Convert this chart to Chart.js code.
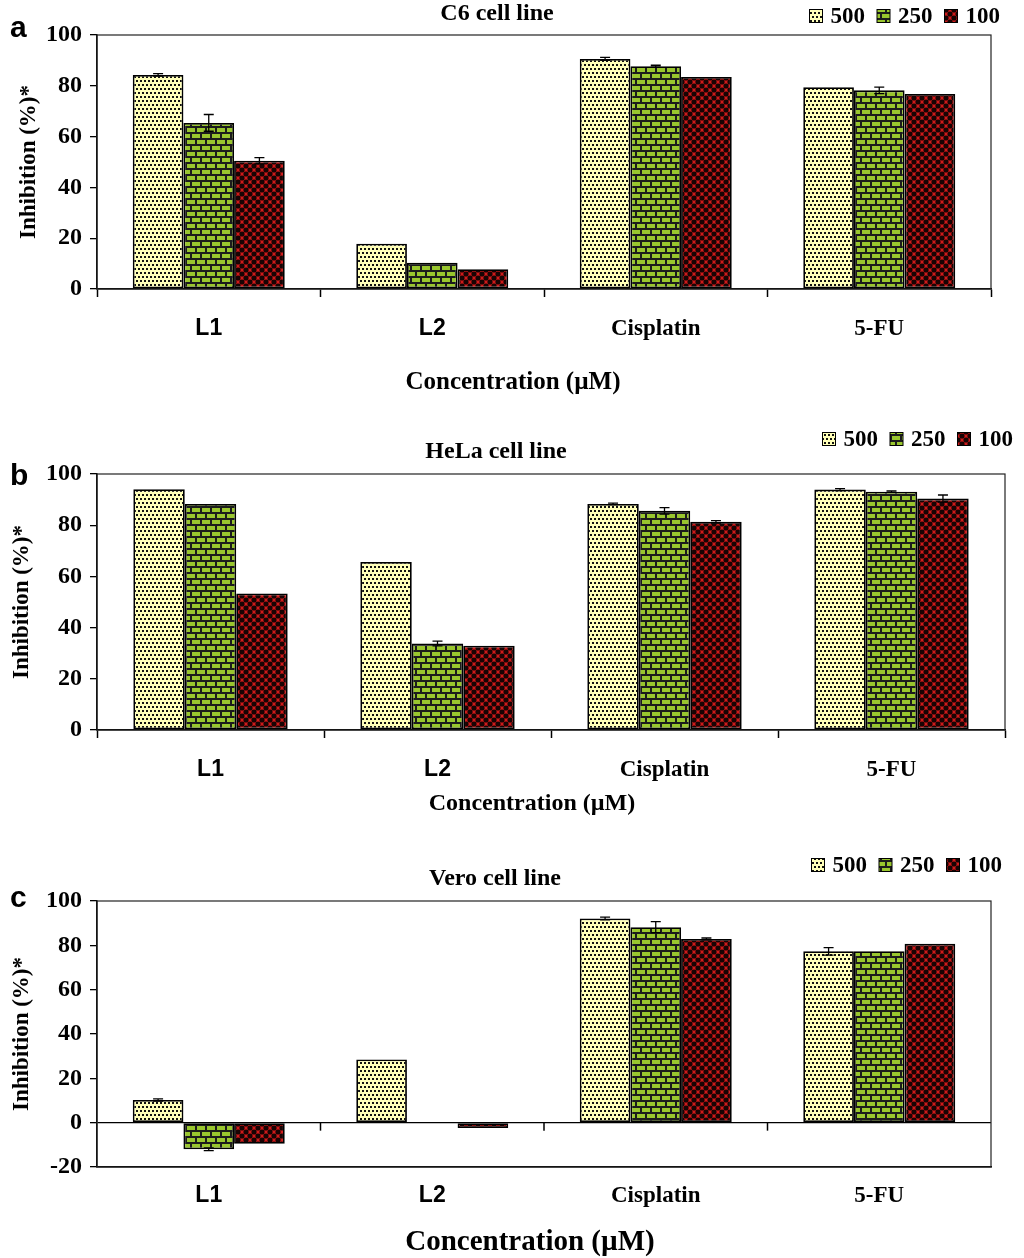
<!DOCTYPE html>
<html>
<head>
<meta charset="utf-8">
<title>Inhibition (%) by cell line</title>
<script src="https://cdn.jsdelivr.net/npm/chart.js@4.4.1/dist/chart.umd.min.js"></script>
<style>
  html, body { margin: 0; padding: 0; background: #ffffff; }
  .panel { position: absolute; left: 0; width: 1024px; }
  #panel-a { top: 0;     height: 410px; }
  #panel-b { top: 410px; height: 420px; }
  #panel-c { top: 830px; height: 428px; }
</style>
</head>
<body>
<div class="panel" id="panel-a"><canvas id="chartA"></canvas></div>
<div class="panel" id="panel-b"><canvas id="chartB"></canvas></div>
<div class="panel" id="panel-c"><canvas id="chartC"></canvas></div>

<script>
// ─────────────────────────────────────────
// DATA
// ─────────────────────────────────────────

const compounds = ["L1", "L2", "Cisplatin", "5-FU"];
const doses     = ["500", "250", "100"];

// C6 cell line
const c6_500 = [84.3, 17.8, 90.6, 79.4];
const c6_250 = [65.4, 10.3, 87.7, 78.2];
const c6_100 = [50.5,  7.8, 83.5, 76.8];
const c6_err500 = [0.5, 0, 0.6, 0];
const c6_err250 = [3.3, 0, 0.4, 1.3];
const c6_err100 = [1.2, 0, 0,   0];

// HeLa cell line
const hela_500 = [94.0, 65.6, 88.3, 93.9];
const hela_250 = [88.3, 33.8, 85.6, 93.1];
const hela_100 = [53.3, 32.9, 81.3, 90.4];
const hela_err500 = [0, 0,   0.3, 0.4];
const hela_err250 = [0, 0.9, 1.3, 0.3];
const hela_err100 = [0, 0,   0.5, 1.4];

// Vero cell line
const vero_500 = [10.2, 28.5, 92.1, 77.3];
const vero_250 = [-12.0, 0,   88.2, 77.3];
const vero_100 = [-9.5, -2.4, 82.9, 80.7];
const vero_err500 = [0.5, 0, 0.6, 1.7];
const vero_err250 = [0.6, 0, 2.5, 0];
const vero_err100 = [0,   0, 0.4, 0];

// ─────────────────────────────────────────
// FILL PATTERNS
// ─────────────────────────────────────────

const SERIF = "'Liberation Serif', 'Times New Roman', serif";
const SANS  = "'Liberation Sans', Arial, sans-serif";

function makePattern(kind) {
  const t = document.createElement("canvas");
  const g = t.getContext("2d");
  if (kind === "dots") {
    t.width = 8; t.height = 8;
    g.fillStyle = "#FFFFB8"; g.fillRect(0, 0, 8, 8);
    g.fillStyle = "#111111";
    [[0, 0], [4, 0], [2, 4], [6, 4]].forEach(p => g.fillRect(p[0], p[1], 2, 2));
  } else if (kind === "brick") {
    t.width = 20; t.height = 12;
    g.fillStyle = "#99C62E"; g.fillRect(0, 0, 20, 12);
    g.fillStyle = "#1c1c1c";
    g.fillRect(0, 0, 20, 2);
    g.fillRect(0, 6, 20, 2);
    g.fillRect(0, 2, 2, 4);
    g.fillRect(10, 2, 2, 4);
    g.fillRect(5, 8, 2, 4);
    g.fillRect(15, 8, 2, 4);
  } else {
    t.width = 8; t.height = 8;
    g.fillStyle = "#D01A1A"; g.fillRect(0, 0, 8, 8);
    g.fillStyle = "#180404";
    [[2, 2], [6, 6], [-2, 6], [6, -2], [10, 6], [6, 10], [-2, -2], [10, 10], [2, 10], [10, 2], [-2, 10], [10, -2]]
      .forEach(p => {
        g.beginPath(); g.arc(p[0], p[1], 2.6, 0, Math.PI * 2); g.fill();
      });
  }
  const tmp = document.createElement("canvas").getContext("2d");
  return tmp.createPattern(t, "repeat");
}

const fills = [makePattern("dots"), makePattern("brick"), makePattern("circles")];

// ─────────────────────────────────────────
// PANEL DECORATION PLUGIN
// (letter, title, legend, x title, box, error bars)
// ─────────────────────────────────────────

const panelDeco = {
  id: "panelDeco",
  afterDatasetsDraw(chart) {
    const ctx = chart.ctx;
    const ys  = chart.scales.y;
    ctx.save();
    ctx.strokeStyle = "#000";
    ctx.lineWidth = 1.3;
    chart.data.datasets.forEach((ds, di) => {
      const meta = chart.getDatasetMeta(di);
      meta.data.forEach((bar, i) => {
        const e = ds.errorBars[i];
        if (!e) return;
        const v  = ds.data[i];
        const y1 = ys.getPixelForValue(v + e);
        const y2 = ys.getPixelForValue(v - e);
        ctx.beginPath();
        ctx.moveTo(bar.x, y1); ctx.lineTo(bar.x, y2);
        ctx.moveTo(bar.x - 5, y1); ctx.lineTo(bar.x + 5, y1);
        ctx.moveTo(bar.x - 5, y2); ctx.lineTo(bar.x + 5, y2);
        ctx.stroke();
      });
    });
    ctx.restore();
  },
  afterDraw(chart, args, o) {
    const ctx  = chart.ctx;
    const area = chart.chartArea;
    ctx.save();

    // frame round the plot
    ctx.strokeStyle = "#222";
    ctx.lineWidth = 1.2;
    ctx.strokeRect(area.left, area.top, area.right - area.left, area.bottom - area.top);

    // category ticks hanging from the zero line (panel c)
    if (o.zeroTicks) {
      const xs = chart.scales.x;
      const y0 = chart.scales.y.getPixelForValue(0);
      const n  = chart.data.labels.length;
      ctx.strokeStyle = "#000";
      ctx.lineWidth = 1.5;
      for (let i = 1; i < n; i++) {
        const x = (xs.getPixelForTick(i - 1) + xs.getPixelForTick(i)) / 2;
        ctx.beginPath(); ctx.moveTo(x, y0); ctx.lineTo(x, y0 + 8); ctx.stroke();
      }
    }

    ctx.fillStyle = "#000";

    // panel letter
    ctx.font = "bold 30px " + SANS;
    ctx.textAlign = "left";
    ctx.textBaseline = "alphabetic";
    ctx.fillText(o.letter, 10, o.letterY);

    // panel title
    ctx.font = "bold 24px " + SERIF;
    ctx.textAlign = "center";
    ctx.textBaseline = "middle";
    ctx.fillText(o.title, o.titleX, o.titleY);

    // x axis title
    ctx.font = "bold " + o.xTitleSize + "px " + SERIF;
    ctx.fillText("Concentration (\u00B5M)", o.xTitleX, o.xTitleY);

    // legend
    ctx.font = "bold 23px " + SERIF;
    ctx.textAlign = "left";
    const box = 13, gap = 8, spacing = 12;
    const items = chart.data.datasets.map(ds => ({
      label: ds.label, fill: ds.backgroundColor, w: ctx.measureText(ds.label).width
    }));
    let total = 0;
    items.forEach((it, i) => { total += box + gap + it.w + (i < items.length - 1 ? spacing : 0); });
    let x = o.legendRight - total;
    items.forEach(it => {
      ctx.fillStyle = it.fill;
      ctx.fillRect(x, o.legendY - box / 2, box, box);
      ctx.strokeStyle = "#000";
      ctx.lineWidth = 1;
      ctx.strokeRect(x, o.legendY - box / 2, box, box);
      ctx.fillStyle = "#000";
      ctx.fillText(it.label, x + box + gap, o.legendY + 1);
      x += box + gap + it.w + spacing;
    });

    ctx.restore();
  }
};

// ─────────────────────────────────────────
// BUILD ONE PANEL
// ─────────────────────────────────────────

function makePanel(canvasId, series, errors, p) {
  const datasets = doses.map((d, k) => ({
    label: d,
    data: series[k],
    errorBars: errors[k],
    backgroundColor: fills[k],
    borderColor: "#000",
    borderWidth: 1.8,
    borderSkipped: false,
    categoryPercentage: 0.68,
    barPercentage: 1.0
  }));

  return new Chart(document.getElementById(canvasId), {
    type: "bar",
    data: { labels: compounds, datasets: datasets },
    plugins: [panelDeco],
    options: {
      responsive: true,
      maintainAspectRatio: false,
      animation: false,
      layout: { padding: { top: p.padTop, right: p.padRight, left: 0, bottom: 0 } },
      plugins: {
        legend: { display: false },
        tooltip: { enabled: false },
        panelDeco: p.deco
      },
      scales: {
        x: {
          afterFit: s => { s.height = p.xHeight; },
          border: { display: true, color: "#000", width: 1.5 },
          grid: {
            offset: true,
            drawOnChartArea: false,
            drawTicks: !p.deco.zeroTicks,
            tickLength: 8,
            tickColor: "#000",
            tickWidth: 1.5
          },
          ticks: {
            color: "#000",
            padding: p.xTickPad,
            font: ctx => ({
              family: ctx.index < 2 ? SANS : SERIF,
              size: 23,
              weight: "bold"
            })
          }
        },
        y: {
          min: p.yMin,
          max: 100,
          afterFit: s => { s.width = 97; },
          border: { display: true, color: "#000", width: 1.5 },
          grid: {
            drawOnChartArea: p.yMin < 0,
            color: ctx => (ctx.tick && ctx.tick.value === 0 ? "#000" : "rgba(0,0,0,0)"),
            lineWidth: 1.3,
            tickColor: "#000",
            tickLength: 7,
            tickWidth: 1.3
          },
          ticks: {
            stepSize: 20,
            color: "#000",
            padding: 8,
            font: { family: SERIF, size: 24, weight: "bold" }
          },
          title: {
            display: true,
            text: "Inhibition (%)*",
            color: "#000",
            padding: { top: p.yTitlePad, bottom: 0 },
            font: { family: SERIF, size: 23, weight: "bold" }
          }
        }
      }
    }
  });
}

// ─────────────────────────────────────────
// THE THREE PANELS
// ─────────────────────────────────────────

makePanel("chartA",
  [c6_500, c6_250, c6_100],
  [c6_err500, c6_err250, c6_err100],
  {
    padTop: 35, padRight: 33, xHeight: 121, xTickPad: 18, yMin: 0, yTitlePad: 15,
    deco: {
      letter: "a", letterY: 37,
      title: "C6 cell line", titleX: 497, titleY: 14,
      legendRight: 1000, legendY: 16,
      xTitleX: 513, xTitleY: 383, xTitleSize: 25,
      zeroTicks: false
    }
  });

makePanel("chartB",
  [hela_500, hela_250, hela_100],
  [hela_err500, hela_err250, hela_err100],
  {
    padTop: 64, padRight: 19, xHeight: 100, xTickPad: 18, yMin: 0, yTitlePad: 8,
    deco: {
      letter: "b", letterY: 75,
      title: "HeLa cell line", titleX: 496, titleY: 42,
      legendRight: 1013, legendY: 29,
      xTitleX: 532, xTitleY: 394, xTitleSize: 24,
      zeroTicks: false
    }
  });

makePanel("chartC",
  [vero_500, vero_250, vero_100],
  [vero_err500, vero_err250, vero_err100],
  {
    padTop: 71, padRight: 33, xHeight: 91, xTickPad: 15, yMin: -20, yTitlePad: 8,
    deco: {
      letter: "c", letterY: 77,
      title: "Vero cell line", titleX: 495, titleY: 49,
      legendRight: 1002, legendY: 35,
      xTitleX: 530, xTitleY: 413, xTitleSize: 29,
      zeroTicks: true
    }
  });
</script>
</body>
</html>
